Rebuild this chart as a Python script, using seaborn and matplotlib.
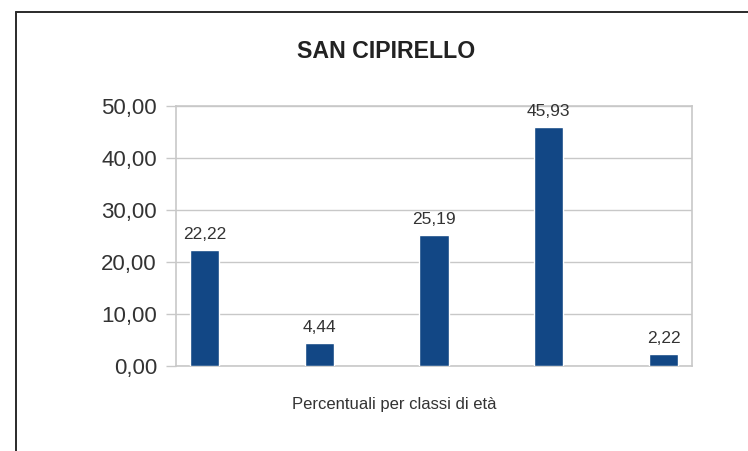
import matplotlib
matplotlib.use("Agg")
import matplotlib.pyplot as plt
import seaborn as sns
import pandas as pd
from matplotlib.lines import Line2D

categories = ["C1", "C2", "C3", "C4", "C5"]
values = [22.22, 4.44, 25.19, 45.93, 2.22]
yticks = [0, 10, 20, 30, 40, 50]
title = "SAN CIPIRELLO"
xlabel = "Percentuali per classi di età"

sns.set_theme(style="white")
plt.rcParams['font.family'] = ['Liberation Sans', 'DejaVu Sans']

df = pd.DataFrame({"cat": categories, "val": values})

fig = plt.figure(figsize=(7.48, 4.51), dpi=100)
ax = fig.add_axes([176/748, 85/451, (692-176)/748, (366-106)/451])

sns.barplot(data=df, x="cat", y="val", color="#124785", width=0.253,
            saturation=1, ax=ax, zorder=3)
ax.set_xlim(-0.248, 4.248)
ax.set_ylim(0, 50)
ax.set_yticks(yticks)
ax.set_yticklabels([f"{t:.2f}".replace(".", ",") for t in yticks],
                   fontsize=16, color="#333333")
ax.set_xticks([])
ax.set_xlabel("")
ax.set_ylabel("")
ax.grid(axis="y", color="#c8c8c8", linewidth=1, zorder=0)
ax.tick_params(axis="y", length=7.2, width=1, color="#c8c8c8", pad=6.5, left=True)
for s in ax.spines.values():
    s.set_color("#c8c8c8")
    s.set_linewidth(1.2)

for i, v in enumerate(values):
    ax.annotate(f"{v:.2f}".replace(".", ","), (i, v), xytext=(0, 6),
                textcoords="offset points", ha="center", va="bottom",
                fontsize=12.5, color="#333333")

fig.text(386.5/748, 1 - 51.5/451, title, ha="center", va="center",
         fontsize=16.7, fontweight="bold", color="#222222")
fig.text(394/748, 1 - 405/451, xlabel, ha="center", va="center",
         fontsize=12, color="#333333")

fig.add_artist(Line2D([15.5/748, 15.5/748], [0, 1 - 11.5/451], transform=fig.transFigure,
                      color="#2a2a2a", linewidth=1.4))
fig.add_artist(Line2D([15.5/748, 1], [1 - 11.5/451, 1 - 11.5/451], transform=fig.transFigure,
                      color="#2a2a2a", linewidth=1.4))

fig.savefig("out.png", dpi=100, facecolor="white")
